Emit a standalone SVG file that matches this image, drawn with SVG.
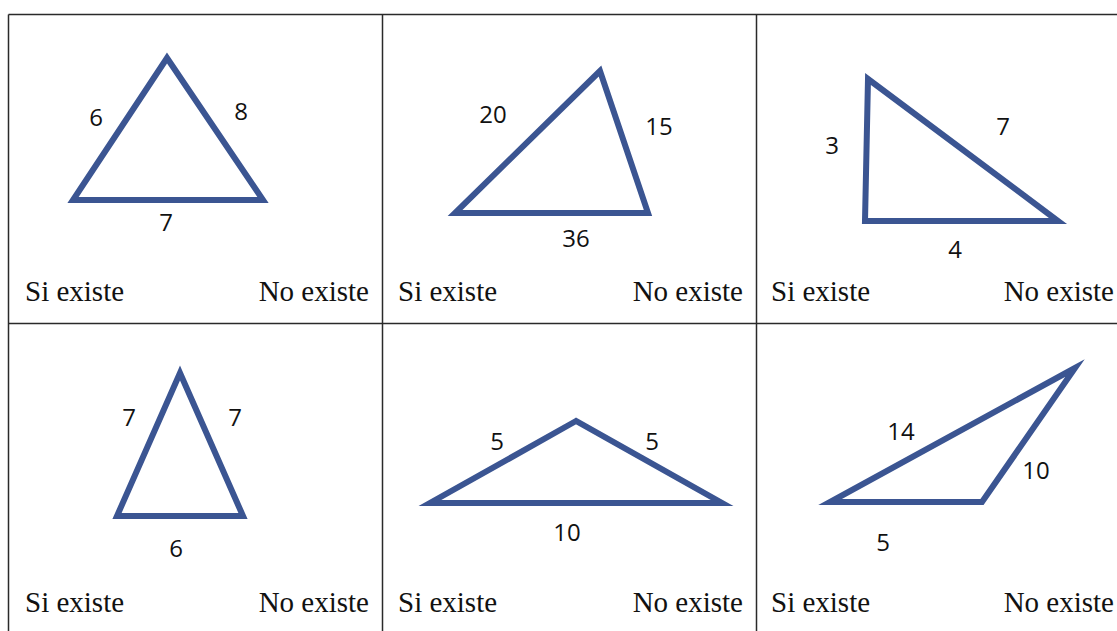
<svg xmlns="http://www.w3.org/2000/svg" width="1117" height="631" viewBox="0 0 1117 631">
<style>
.grid{stroke:#2a2a2a;stroke-width:1.5;fill:none}
.tri{fill:none;stroke:#3b5592;stroke-width:6;stroke-linejoin:miter;stroke-miterlimit:10}
.num{font-family:"Open Sans","Noto Sans",sans-serif;font-size:24px;fill:#111;text-anchor:middle}
.opt{font-family:"Liberation Serif","Times New Roman",serif;font-size:29px;fill:#111}
.end{text-anchor:end}
</style>
<rect width="1117" height="631" fill="#fff"/>
<g id="grid">
<line class="grid" x1="8.5" y1="14.5" x2="1117" y2="14.5"/>
<line class="grid" x1="8.5" y1="323.5" x2="1117" y2="323.5"/>
<line class="grid" x1="8.5" y1="14.5" x2="8.5" y2="631"/>
<line class="grid" x1="382.5" y1="14.5" x2="382.5" y2="631"/>
<line class="grid" x1="756.5" y1="14.5" x2="756.5" y2="631"/>
</g>
<g id="cell1">
<polygon class="tri" points="167,58 73,200 263,200"/>
<text class="num" x="96" y="126">6</text>
<text class="num" x="241" y="120">8</text>
<text class="num" x="166" y="231">7</text>
<text class="opt" x="25" y="301">Si existe</text>
<text class="opt end" x="369" y="301">No existe</text>
</g>
<g id="cell2">
<polygon class="tri" points="600,71 455,213 648,213"/>
<text class="num" x="493" y="123">20</text>
<text class="num" x="659" y="135">15</text>
<text class="num" x="576" y="247">36</text>
<text class="opt" x="398" y="301">Si existe</text>
<text class="opt end" x="743" y="301">No existe</text>
</g>
<g id="cell3">
<polygon class="tri" points="868,79 865,221 1058,221"/>
<text class="num" x="832" y="154">3</text>
<text class="num" x="1003" y="135">7</text>
<text class="num" x="955" y="258">4</text>
<text class="opt" x="771" y="301">Si existe</text>
<text class="opt end" x="1114" y="301">No existe</text>
</g>
<g id="cell4">
<polygon class="tri" points="180,373 117,516 243,516"/>
<text class="num" x="129" y="426">7</text>
<text class="num" x="235" y="426">7</text>
<text class="num" x="176" y="557">6</text>
<text class="opt" x="25" y="612">Si existe</text>
<text class="opt end" x="369" y="612">No existe</text>
</g>
<g id="cell5">
<polygon class="tri" points="576,421 430,503 722,503"/>
<text class="num" x="497" y="450">5</text>
<text class="num" x="652" y="450">5</text>
<text class="num" x="567" y="541">10</text>
<text class="opt" x="398" y="612">Si existe</text>
<text class="opt end" x="743" y="612">No existe</text>
</g>
<g id="cell6">
<polygon class="tri" points="1075,368 830,502 982,502"/>
<text class="num" x="901" y="440">14</text>
<text class="num" x="1036" y="479">10</text>
<text class="num" x="883" y="551">5</text>
<text class="opt" x="771" y="612">Si existe</text>
<text class="opt end" x="1114" y="612">No existe</text>
</g>
</svg>
